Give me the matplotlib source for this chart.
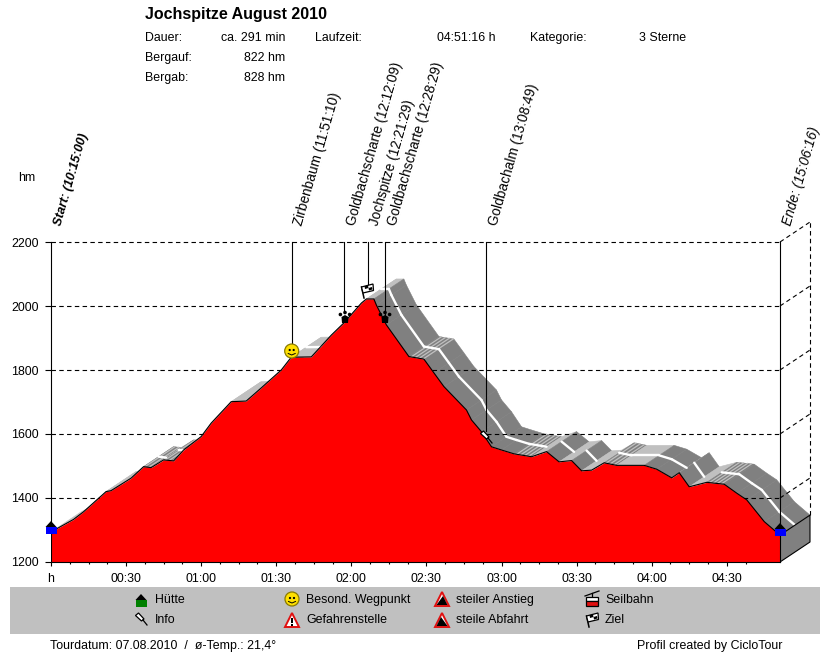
import numpy as np
import matplotlib
matplotlib.use("Agg")
import matplotlib.pyplot as plt
from matplotlib.patches import Polygon, Circle, Rectangle

plt.rcParams["font.family"] = ["Liberation Sans", "DejaVu Sans"]

# ── data ───────────────────────────────────────────────
minutes = [0, 9, 13, 22, 24, 32, 37, 40, 45, 49, 53, 60, 64, 72, 78, 84, 92, 96, 104,
           112, 117, 124, 126, 129, 130, 134, 143, 149, 153, 157, 166, 168, 172, 176,
           180, 185, 192, 198, 203, 208, 212, 216, 221, 226, 237, 242, 248, 251, 255,
           262, 269, 274, 278, 285, 291.27]
height = [1294, 1333, 1357, 1420, 1423, 1462, 1498, 1495, 1519, 1516, 1550, 1592, 1634,
          1701, 1703, 1744, 1800, 1840, 1841, 1909, 1947, 2009, 2022, 2022, 2003, 1941,
          1842, 1834, 1791, 1748, 1675, 1644, 1607, 1560, 1550, 1538, 1529, 1545, 1513,
          1517, 1485, 1487, 1510, 1502, 1502, 1490, 1463, 1479, 1435, 1449, 1443, 1415,
          1394, 1326, 1284]

event_labels = ["Start: (10:15:00)", "Zirbenbaum (11:51:10)", "Goldbachscharte (12:12:09)",
                "Jochspitze (12:21:29)", "Goldbachscharte (12:28:29)",
                "Goldbachalm (13:08:49)", "Ende: (15:06:16)"]
event_minutes = [0, 96.17, 117.15, 126.48, 133.48, 173.82, 291.27]
event_heights = [1294, 1841, 1947, 2022, 1941, 1580, 1284]

x_ticks = [0, 30, 60, 90, 120, 150, 180, 210, 240, 270]
x_tick_labels = ["h", "00:30", "01:00", "01:30", "02:00", "02:30", "03:00", "03:30", "04:00", "04:30"]
y_ticks = [1200, 1400, 1600, 1800, 2000, 2200]

legend_left = ["Hütte", "Info"]
legend_mid = ["Besond. Wegpunkt", "Gefahrenstelle"]
legend_right = ["steiler Anstieg", "steile Abfahrt"]
legend_far = ["Seilbahn", "Ziel"]

W, H = 830, 652
X0, X1, Y_TOP, Y_BOT = 51, 780, 242, 562
DEPTH_T, DEPTH_H = 30 / ((X1 - X0) / 291.27), 20 / ((Y_BOT - Y_TOP) / 1000)
FS = 8.9

fig = plt.figure(figsize=(W / 100, H / 100), dpi=100, facecolor="white")
ax = fig.add_axes([X0 / W, 1 - Y_BOT / H, (X1 - X0) / W, (Y_BOT - Y_TOP) / H])
ax.set_xlim(0, 291.27)
ax.set_ylim(1200, 2200)
for s in ["top", "left", "right"]:
    ax.spines[s].set_visible(False)
ax.spines["bottom"].set_linewidth(0.8)
ax.spines["bottom"].set_zorder(20)

t = np.array(minutes)
h = np.array(height)
T_END = t[-1]
dash = (0, (4, 3))


def px(tv, hv):
    return X0 + tv * (X1 - X0) / 291.27, Y_BOT - (hv - 1200) * (Y_BOT - Y_TOP) / 1000


# ── ribbon behind the profile, left to right ──
for i in range(len(t) - 1):
    slope = (h[i + 1] - h[i]) / (t[i + 1] - t[i])
    gentle = -2.2 <= slope < -0.5
    col = "#808080" if slope < -0.5 else "#c0c0c0"
    ax.add_patch(Polygon([(t[i], h[i]), (t[i + 1], h[i + 1]),
                          (t[i + 1] + DEPTH_T, h[i + 1] + DEPTH_H),
                          (t[i] + DEPTH_T, h[i] + DEPTH_H)],
                         closed=True, fc=col, ec=col, lw=0.4, zorder=2, clip_on=False))
    # fine light streaks across the gently falling stretches
    if gentle:
        for f in np.arange(0.15, 1, 1.6 / (t[i + 1] - t[i])):
            ts = t[i] + f * (t[i + 1] - t[i])
            hs = h[i] + f * (h[i + 1] - h[i])
            ax.plot([ts, ts + DEPTH_T], [hs, hs + DEPTH_H], color="#c0c0c0", lw=0.9,
                    zorder=2.5, clip_on=False)
    if slope <= 0.2:
        ax.plot([t[i] + DEPTH_T / 2, t[i + 1] + DEPTH_T / 2],
                [h[i] + DEPTH_H / 2, h[i + 1] + DEPTH_H / 2],
                color="white", lw=1.7, zorder=3, clip_on=False, solid_capstyle="round")

# side face at the end of the ribbon
ax.add_patch(Polygon([(T_END, 1200), (T_END + DEPTH_T, 1200 + DEPTH_H),
                      (T_END + DEPTH_T, h[-1] + DEPTH_H), (T_END, h[-1])],
                     closed=True, fc="#808080", ec="black", lw=0.8, zorder=4, clip_on=False))

# grid and box
for yv in y_ticks[1:]:
    ax.plot([0, T_END], [yv, yv], color="black", lw=0.8, ls=dash, zorder=5, clip_on=False)
    ax.plot([T_END, T_END + DEPTH_T], [yv, yv + DEPTH_H], color="black", lw=0.8, ls=dash,
            zorder=5, clip_on=False)
ax.plot([T_END + DEPTH_T] * 2, [h[-1] + DEPTH_H, 2200 + DEPTH_H], color="black", lw=0.8,
        ls=dash, zorder=5, clip_on=False)

# profile
ax.fill_between(t, 1200, h, color="#ff0000", lw=0, zorder=6)
ax.plot(t, h, color="black", lw=0.8, zorder=7)

# event lines
for tv, hv in zip(event_minutes, event_heights):
    ax.plot([tv, tv], [hv + 30, 2200], color="black", lw=0.8, zorder=8, clip_on=False)
ax.plot([T_END, T_END], [1200, h[-1]], color="black", lw=0.8, zorder=8, clip_on=False)
ax.plot([0, 0], [1200, 1294], color="black", lw=0.8, zorder=8)

ax.set_xticks(x_ticks, x_tick_labels, fontsize=FS)
ax.set_xticks(np.arange(0, 285, 7.5), minor=True)
ax.set_yticks(y_ticks, [str(v) for v in y_ticks], fontsize=FS)
ax.tick_params(axis="x", length=3, width=0.8, pad=5)
ax.tick_params(axis="x", which="minor", length=1.5, width=0.8)
ax.tick_params(axis="y", length=4.3, width=0.8, pad=4.3)

# ── overlay in pixel coordinates for header, icons, legend ──
ov = fig.add_axes([0, 0, 1, 1], facecolor="none")
ov.set_xlim(0, W)
ov.set_ylim(H, 0)
ov.axis("off")


def txt(x, y, s, **kw):
    kw.setdefault("fontsize", FS)
    kw.setdefault("va", "center")
    ov.text(x, y, s, color="black", **kw)


def house(x, y, body):
    ov.add_patch(Rectangle((x - 5.5, y), 11, 6.5, fc=body, ec="none", zorder=12))
    ov.add_patch(Polygon([(x - 5.5, y), (x, y - 6), (x + 5.5, y)], fc="black", ec="none", zorder=12))


def smiley(x, y):
    ov.add_patch(Circle((x, y), 7, fc="#ffe000", ec="#8a7a00", lw=0.9, zorder=12))
    for dx in (-2, 2):
        ov.add_patch(Circle((x + dx, y - 1), 1.1, fc="black", ec="none", zorder=13))
    ov.plot([x - 3.5, x, x + 3.5], [y + 2.5, y + 4, y + 2.5], color="black", lw=0.7, zorder=13)


def paw(x, y):
    ov.add_patch(Polygon([(x - 3, y + 6), (x - 3.5, y), (x, y - 2), (x + 3.5, y), (x + 3, y + 6)],
                         fc="black", ec="none", zorder=12))
    for dx, dy in ((-4.6, -2.5), (0, -4.5), (4.6, -2.5)):
        ov.add_patch(Circle((x + dx, y + dy), 1.8, fc="black", ec="none", zorder=12))


def flag(x, y):
    ov.plot([x - 5.5, x - 3], [y - 4, y + 7], color="black", lw=1.1, zorder=12)
    ov.add_patch(Polygon([(x - 5.5, y - 4), (x + 6, y - 7), (x + 6.5, y - 0.5), (x - 4, y + 2)],
                         fc="white", ec="black", lw=0.9, zorder=12))
    ov.add_patch(Polygon([(x - 2.5, y - 4.8), (x + 1, y - 5.6), (x + 1.5, y - 3), (x - 2, y - 2)],
                         fc="black", ec="none", zorder=13))
    ov.add_patch(Polygon([(x + 1.5, y - 3), (x + 5, y - 4), (x + 5.5, y - 1.5), (x + 2, y - 0.5)],
                         fc="black", ec="none", zorder=13))


def pin(x, y):
    ov.add_patch(Polygon([(x - 5.5, y - 3.5), (x - 2.5, y - 6), (x + 3, y), (x + 0.5, y + 2)],
                         fc="white", ec="black", lw=0.9, zorder=12))
    ov.plot([x + 2, x + 6], [y + 1, y + 6], color="black", lw=0.9, zorder=12)


def warn(x, y, mark=False, down=False):
    ov.add_patch(Polygon([(x - 7, y + 7), (x, y - 7), (x + 7, y + 7)], fc="white", ec="#e01010",
                         lw=1.4, joinstyle="miter", zorder=12))
    if mark:
        ov.add_patch(Rectangle((x - 0.9, y - 2), 1.8, 5, fc="black", ec="none", zorder=13))
        ov.add_patch(Rectangle((x - 0.9, y + 3.8), 1.8, 1.8, fc="black", ec="none", zorder=13))
    elif down:
        ov.add_patch(Polygon([(x - 5.5, y + 6), (x - 1, y - 3), (x + 5.5, y + 6)], fc="black", ec="none", zorder=13))
    else:
        ov.add_patch(Polygon([(x - 5.5, y + 6), (x + 1, y - 3), (x + 5.5, y + 6)], fc="black", ec="none", zorder=13))


def cable(x, y):
    ov.plot([x - 7, x + 7], [y - 3, y - 8], color="black", lw=0.9, zorder=12)
    ov.plot([x, x], [y - 6, y - 2], color="black", lw=0.9, zorder=12)
    ov.add_patch(Rectangle((x - 6, y - 2), 12, 4, fc="white", ec="black", lw=0.9, zorder=12))
    ov.add_patch(Rectangle((x - 6, y + 2), 12, 4.5, fc="#e01010", ec="black", lw=0.9, zorder=12))


# header
txt(145, 14, "Jochspitze August 2010", fontsize=11.5, fontweight="bold")
txt(145, 38, "Dauer:")
txt(285, 38, "ca. 291 min", ha="right")
txt(145, 58, "Bergauf:")
txt(285, 58, "822 hm", ha="right")
txt(145, 78, "Bergab:")
txt(285, 78, "828 hm", ha="right")
txt(315, 38, "Laufzeit:")
txt(495, 38, "04:51:16 h", ha="right")
txt(530, 38, "Kategorie:")
txt(639, 38, "3 Sterne")
txt(18, 178, "hm")

# rotated event labels
for label, tv in zip(event_labels, event_minutes):
    x, _ = px(tv, 2200)
    start = label.startswith("Start")
    end = label.startswith("Ende")
    ov.text(x + 7, 225, label, rotation=74, rotation_mode="anchor", ha="left", va="center",
            fontsize=9.1 if start else 9.8,
            fontweight="bold" if start else "normal",
            fontstyle="italic" if start or end else "normal", color="black")

# icons on the profile
house(px(0, 0)[0], 527, "#0000ff")
house(px(T_END, 0)[0], 529, "#0000ff")
smiley(px(96.17, 0)[0], 351)
paw(345, 317)
paw(385, 317)
flag(367, 291)
pin(486, 437)

# legend strip
ov.add_patch(Rectangle((10, 587), 810, 47, fc="#c0c0c0", ec="none", zorder=1))
for (x, labels) in zip((155, 306, 456, 605), (legend_left, legend_mid, legend_right, legend_far)):
    txt(x, 600, labels[0])
    txt(x, 620, labels[1])
house(141, 600, "#008000")
pin(141, 619)
smiley(292, 599)
warn(292, 620, mark=True)
warn(442, 599)
warn(442, 620, down=True)
cable(592, 599)
flag(592, 620)

# footer
txt(50, 646, "Tourdatum: 07.08.2010  /  ø-Temp.: 21,4°")
txt(637, 646, "Profil created by CicloTour")

fig.savefig("out.png", dpi=100)
